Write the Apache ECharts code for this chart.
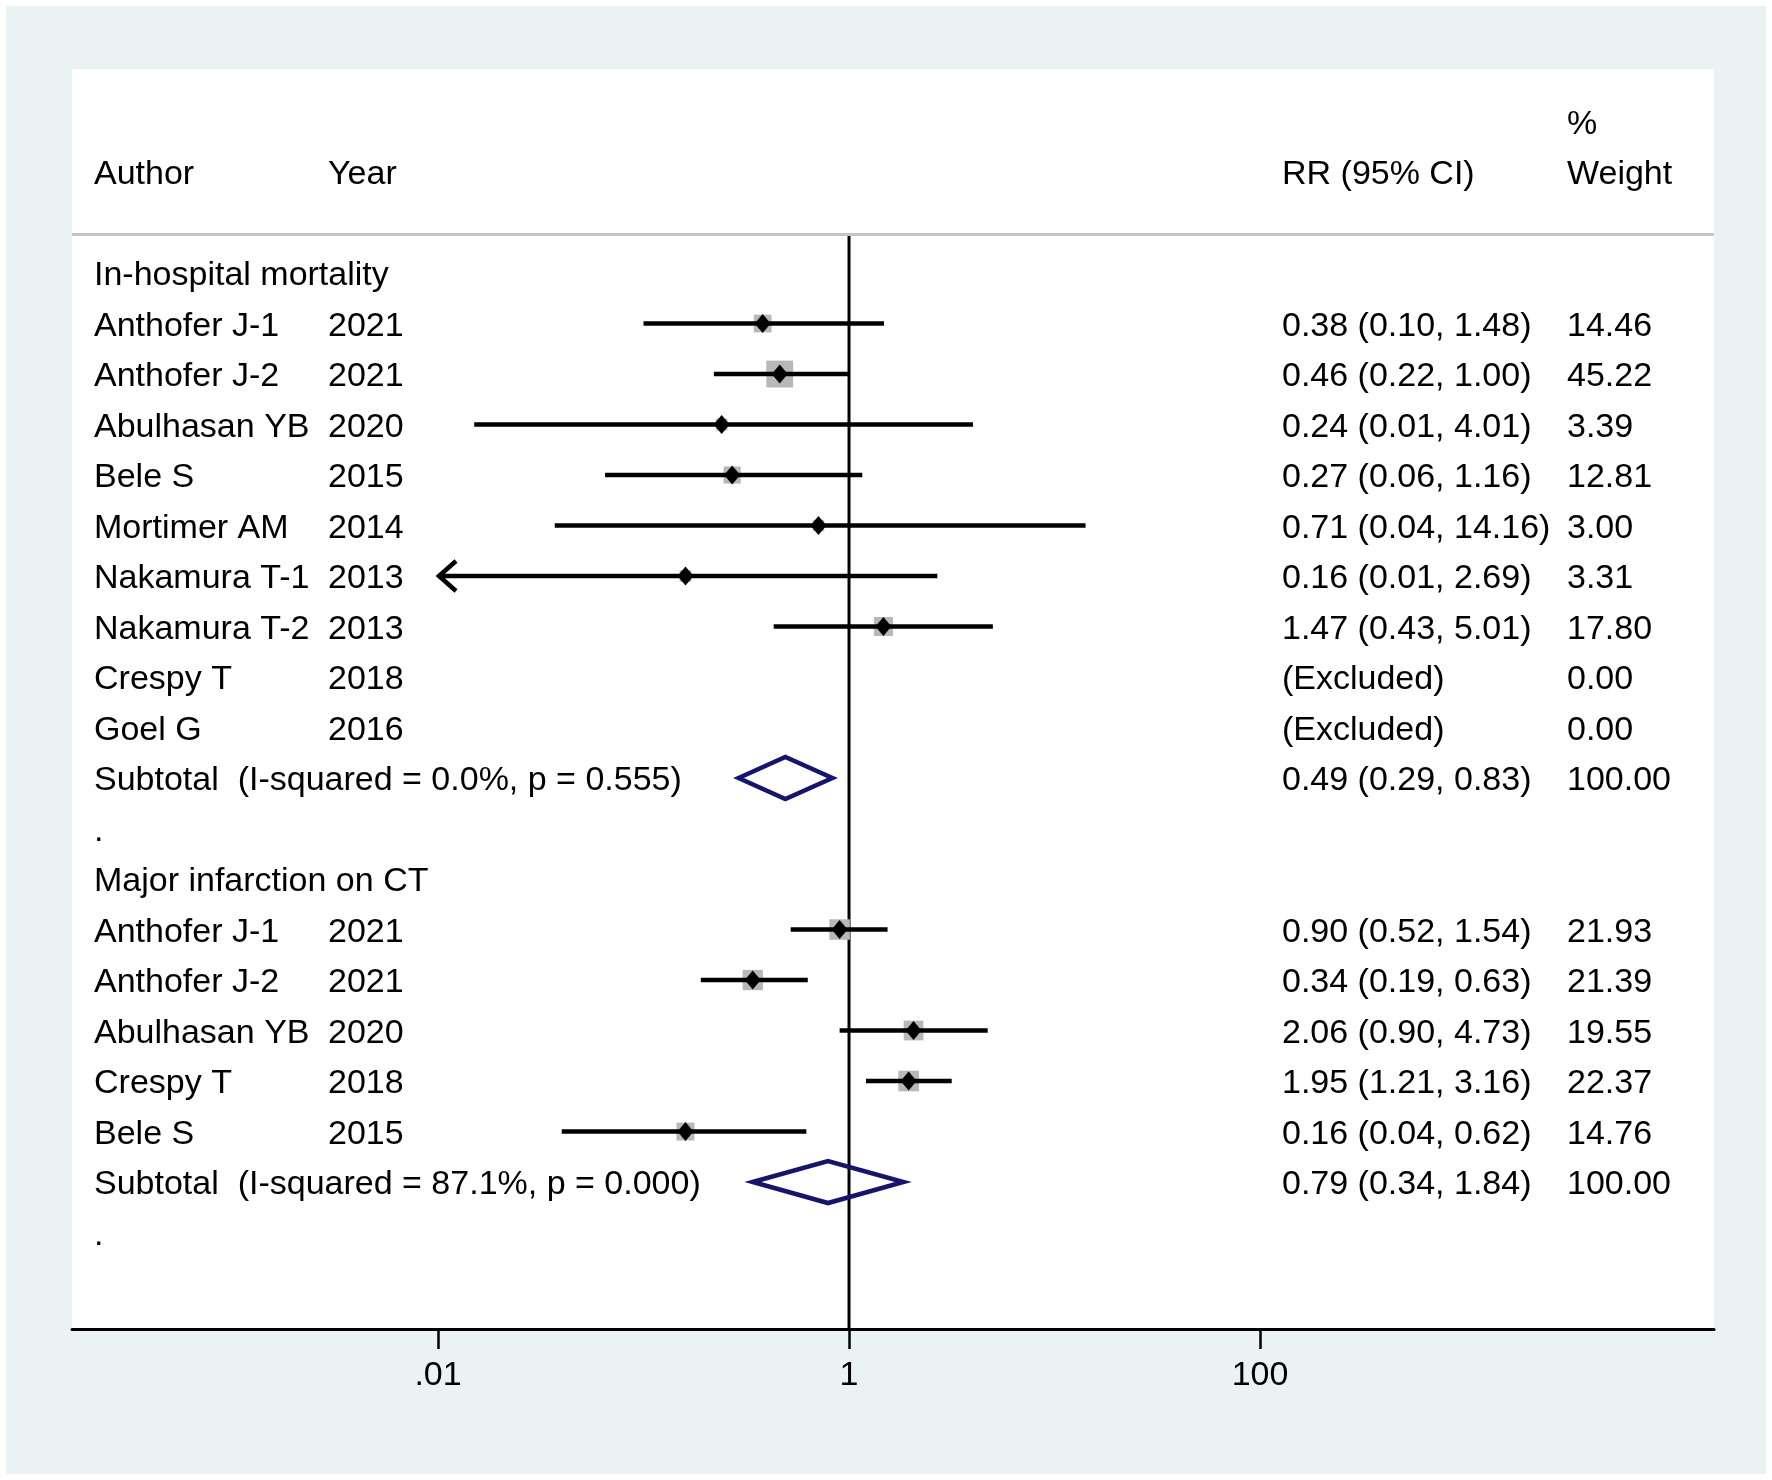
<!DOCTYPE html>
<html>
<head>
<meta charset="utf-8">
<script src="https://cdn.jsdelivr.net/npm/echarts@6/dist/echarts.min.js"></script>
<style>
html, body { margin: 0; background: #fff; }
#main { position: absolute; left: 6px; top: 6px; width: 1760px; height: 1468px; }
</style>
</head>
<body>
<div id="main"></div>
<script>
// 数据: In-hospital mortality
var title1 = 'In-hospital mortality';
var authors1 = ['Anthofer J-1', 'Anthofer J-2', 'Abulhasan YB', 'Bele S', 'Mortimer AM', 'Nakamura T-1', 'Nakamura T-2', 'Crespy T', 'Goel G'];
var years1 = ['2021', '2021', '2020', '2015', '2014', '2013', '2013', '2018', '2016'];
var rr1 = [0.38, 0.46, 0.24, 0.27, 0.71, 0.16, 1.47, null, null];
var lo1 = [0.10, 0.22, 0.015, 0.065, 0.037, 0.009, 0.43, null, null];
var hi1 = [1.48, 1.00, 4.01, 1.16, 14.16, 2.69, 5.01, null, null];
var ciText1 = ['0.38 (0.10, 1.48)', '0.46 (0.22, 1.00)', '0.24 (0.01, 4.01)', '0.27 (0.06, 1.16)', '0.71 (0.04, 14.16)',
    '0.16 (0.01, 2.69)', '1.47 (0.43, 5.01)', '(Excluded)', '(Excluded)'];
var weight1 = ['14.46', '45.22', '3.39', '12.81', '3.00', '3.31', '17.80', '0.00', '0.00'];
var sub1 = [0.49, 0.29, 0.83];
var subLabel1 = 'Subtotal  (I-squared = 0.0%, p = 0.555)';
var subCi1 = '0.49 (0.29, 0.83)';

// 数据: Major infarction on CT
var title2 = 'Major infarction on CT';
var authors2 = ['Anthofer J-1', 'Anthofer J-2', 'Abulhasan YB', 'Crespy T', 'Bele S'];
var years2 = ['2021', '2021', '2020', '2018', '2015'];
var rr2 = [0.90, 0.34, 2.06, 1.95, 0.16];
var lo2 = [0.52, 0.19, 0.90, 1.21, 0.04];
var hi2 = [1.54, 0.63, 4.73, 3.16, 0.62];
var ciText2 = ['0.90 (0.52, 1.54)', '0.34 (0.19, 0.63)', '2.06 (0.90, 4.73)', '1.95 (1.21, 3.16)', '0.16 (0.04, 0.62)'];
var weight2 = ['21.93', '21.39', '19.55', '22.37', '14.76'];
var sub2 = [0.79, 0.34, 1.84];
var subLabel2 = 'Subtotal  (I-squared = 87.1%, p = 0.000)';
var subCi2 = '0.79 (0.34, 1.84)';

// x轴刻度 (log10)
var tickValues = [0.01, 1, 100];
var tickLabels = ['.01', '1', '100'];

var FONT = '"Liberation Sans", Arial, Helvetica, sans-serif';
var log10 = function (v) { return Math.log(v) / Math.LN10; };
var clipMin = log10(0.01);

var labelRows = {};
var studyData = [];
var subData = [];
labelRows[-3] = '{g| }{c| }{d|%}';
labelRows[-2] = '{a|Author}{b|Year}{c|RR (95% CI)}{d|Weight}';

function addGroup(start, title, authors, years, rr, lo, hi, ciText, weight, sub, subLabel, subCi) {
    labelRows[start] = '{g|' + title + '}';
    for (var i = 0; i < authors.length; i++) {
        var row = start + 1 + i;
        labelRows[row] = '{a|' + authors[i] + '}{b|' + years[i] + '}{c|' + ciText[i] + '}{d|' + weight[i] + '}';
        if (rr[i] != null) {
            studyData.push([log10(rr[i]), log10(lo[i]), log10(hi[i]), row, parseFloat(weight[i])]);
        }
    }
    var subRow = start + 1 + authors.length;
    labelRows[subRow] = '{g|' + subLabel + '}{c|' + subCi + '}{d|100.00}';
    labelRows[subRow + 1] = '{g|.}';
    subData.push([log10(sub[0]), log10(sub[1]), log10(sub[2]), subRow]);
}
addGroup(0, title1, authors1, years1, rr1, lo1, hi1, ciText1, weight1, sub1, subLabel1, subCi1);
addGroup(12, title2, authors2, years2, rr2, lo2, hi2, ciText2, weight2, sub2, subLabel2, subCi2);

var rowValues = Object.keys(labelRows).map(Number);
var sepRow = -0.77;

var chart = echarts.init(document.getElementById('main'));

var option = {
    animation: false,
    backgroundColor: '#eaf2f3',
    textStyle: { fontFamily: FONT },
    grid: {
        left: 66, right: 52, top: 63, bottom: 145,
        show: true, backgroundColor: '#ffffff', borderWidth: 0
    },
    xAxis: {
        type: 'value',
        min: -3.781,
        max: 4.209,
        splitLine: { show: false },
        axisLine: { onZero: false, lineStyle: { color: '#000', width: 3 } },
        axisTick: {
            customValues: tickValues.map(log10),
            length: 20,
            lineStyle: { color: '#000', width: 2.5 }
        },
        axisLabel: {
            customValues: tickValues.map(log10),
            formatter: function (v) {
                var i = tickValues.map(log10).findIndex(function (t) { return Math.abs(t - v) < 1e-6; });
                return i >= 0 ? tickLabels[i] : '';
            },
            fontSize: 34,
            color: '#000',
            fontFamily: FONT,
            margin: 30
        }
    },
    yAxis: {
        type: 'value',
        inverse: true,
        min: -4.04,
        max: 20.91,
        splitLine: { show: false },
        axisLine: { show: false },
        axisTick: { show: false },
        axisLabel: {
            inside: true,
            margin: 22,
            padding: [6, 0, 0, 0],
            customValues: rowValues,
            formatter: function (v) {
                return labelRows[Math.round(v)] || '';
            },
            color: '#000',
            fontSize: 34,
            fontFamily: FONT,
            rich: {
                a: { width: 234, fontSize: 34, fontFamily: FONT, color: '#000' },
                b: { width: 954, fontSize: 34, fontFamily: FONT, color: '#000' },
                c: { width: 285, fontSize: 34, fontFamily: FONT, color: '#000' },
                d: { fontSize: 34, fontFamily: FONT, color: '#000' },
                g: { width: 1188, fontSize: 34, fontFamily: FONT, color: '#000' }
            }
        }
    },
    series: [
        {
            // 无效线 RR = 1 与表头分隔线
            type: 'line',
            data: [[0, sepRow], [0, 20.91]],
            symbol: 'none',
            lineStyle: { color: '#000', width: 3 },
            silent: true,
            z: 1,
            markLine: {
                silent: true,
                symbol: 'none',
                label: { show: false },
                lineStyle: { color: '#c4c4c4', width: 3, type: 'solid' },
                data: [{ yAxis: sepRow }]
            }
        },
        {
            // 各研究: 权重方块 + 置信区间 + 点估计
            type: 'custom',
            data: studyData,
            encode: { x: [0, 1, 2], y: 3 },
            z: 3,
            renderItem: function (params, api) {
                var est = api.value(0), lo = api.value(1), hi = api.value(2), row = api.value(3), w = api.value(4);
                var p = api.coord([est, row]);
                var pl = api.coord([Math.max(lo, clipMin), row]);
                var ph = api.coord([hi, row]);
                var s = 6 + 3.1 * Math.sqrt(w);
                var children = [
                    { type: 'rect', shape: { x: p[0] - s / 2, y: p[1] - s / 2, width: s, height: s }, style: { fill: '#b8b8b8' } },
                    { type: 'line', shape: { x1: pl[0], y1: p[1], x2: ph[0], y2: p[1] }, style: { stroke: '#000', lineWidth: 4.5 } }
                ];
                if (lo < clipMin) {
                    children.push({
                        type: 'polyline',
                        shape: { points: [[pl[0] + 18, p[1] - 15], [pl[0] + 1, p[1]], [pl[0] + 18, p[1] + 15]] },
                        style: { stroke: '#000', lineWidth: 4.5, fill: null }
                    });
                }
                children.push({
                    type: 'polygon',
                    shape: { points: [[p[0] - 8, p[1]], [p[0], p[1] - 9.5], [p[0] + 8, p[1]], [p[0], p[1] + 9.5]] },
                    style: { fill: '#000' }
                });
                return { type: 'group', children: children };
            }
        },
        {
            // 合并效应菱形
            type: 'custom',
            data: subData,
            encode: { x: [0, 1, 2], y: 3 },
            z: 4,
            renderItem: function (params, api) {
                var row = api.value(3);
                var pe = api.coord([api.value(0), row]);
                var pl = api.coord([api.value(1), row]);
                var ph = api.coord([api.value(2), row]);
                var h = 21;
                return {
                    type: 'polygon',
                    shape: { points: [[pl[0], pe[1]], [pe[0], pe[1] - h], [ph[0], pe[1]], [pe[0], pe[1] + h]] },
                    style: { fill: null, stroke: '#15166b', lineWidth: 4.5, lineJoin: 'miter' }
                };
            }
        }
    ]
};

chart.setOption(option);
</script>
</body>
</html>
